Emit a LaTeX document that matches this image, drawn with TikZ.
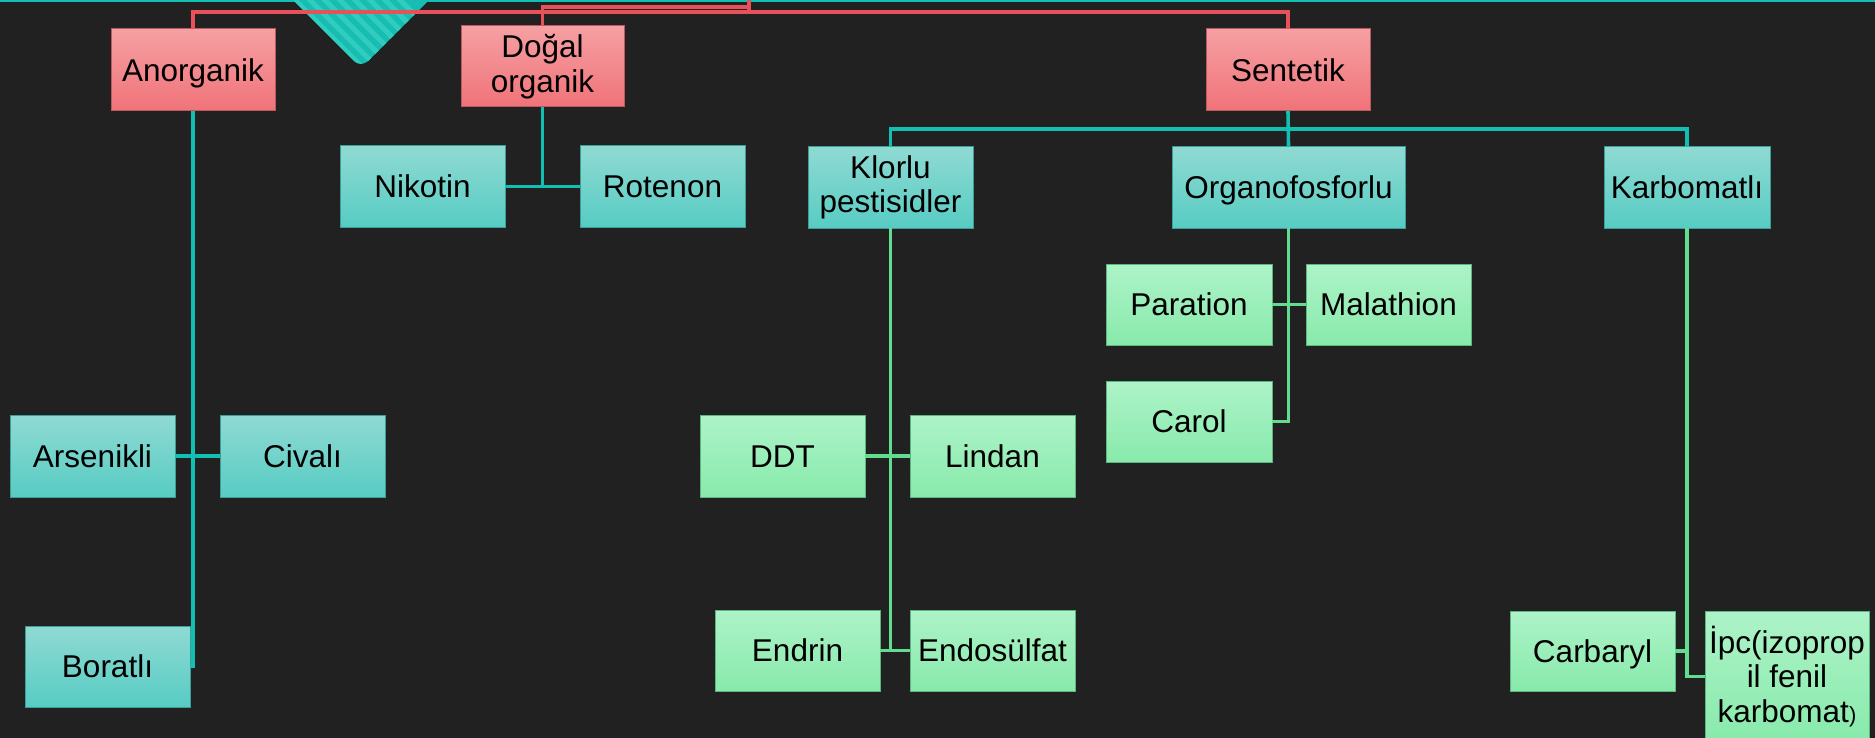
\documentclass[tikz,border=0pt]{standalone}
\usepackage{fontspec}
\setmainfont{Liberation Sans}
\definecolor{bg}{HTML}{212121}
\definecolor{redA}{HTML}{F5A0A3}
\definecolor{redB}{HTML}{F07379}
\definecolor{redE}{HTML}{B85A60}
\definecolor{redL}{HTML}{E8505A}
\definecolor{tealA}{HTML}{8FDAD3}
\definecolor{tealB}{HTML}{57CCC3}
\definecolor{tealE}{HTML}{3E9E97}
\definecolor{tealL}{HTML}{12BFB3}
\definecolor{grnA}{HTML}{ADF3C8}
\definecolor{grnB}{HTML}{88EAAB}
\definecolor{grnE}{HTML}{5DB57F}
\definecolor{grnL}{HTML}{62DC8E}
\definecolor{triA}{HTML}{17BDB0}
\definecolor{triB}{HTML}{2FCCBF}
\begin{document}
\begin{tikzpicture}[x=0.5pt,y=-0.5pt,
 box/.style={draw, line width=0.5pt, inner sep=0pt, outer sep=0pt, text=black,
   font=\fontsize{15.75pt}{17.25pt}\selectfont, align=center},
 wh/.style 2 args={minimum width=#1, minimum height=#2},
 one/.style={text height=11.3pt, text depth=0pt},
 rbox/.style={box, top color=redA, bottom color=redB, draw=redE},
 tbox/.style={box, top color=tealA, bottom color=tealB, draw=tealE},
 gbox/.style={box, top color=grnA, bottom color=grnB, draw=grnE},
 conn/.style={line width=1.8pt},
 rline/.style={conn, draw=redL},
 tline/.style={conn, draw=tealL},
 gline/.style={conn, draw=grnL}]
\useasboundingbox (0,0) rectangle (1875,738);
\fill[bg] (0,0) rectangle (1875,738);
% top band
\fill[tealL] (0,0) rectangle (1875,2.5);
% striped triangle
\begin{scope}
\path[clip, rounded corners=5pt] (283,-10) -- (361,68) -- (439,-10) -- cycle;
\fill[triA] (270,-10) rectangle (450,80);
\foreach \i in {0,...,16} { \draw[triB, line width=2.5pt] (150+\i*15,-10) -- ++(110,110); }
\end{scope}

% level 1
\node[rbox, one, wh={82pt}{41pt}] (anorg) at (193,70) {Anorganik};
\node[rbox, wh={81.5pt}{40.5pt}] (dogal) at (542.5,66.5) {Doğal\\organik};
\node[rbox, one, wh={82pt}{41pt}] (sent) at (1288,70) {Sentetik};

% level 2
\node[tbox, one, wh={82.5pt}{40.5pt}] (nik) at (422.5,186.5) {Nikotin};
\node[tbox, one, wh={82.5pt}{40.5pt}] (rot) at (662.5,186.5) {Rotenon};
\node[tbox, wh={82.5pt}{40.5pt}] (klor) at (890.5,187.5) {Klorlu\\pestisidler};
\node[tbox, one, wh={116.5pt}{40.5pt}] (org) at (1288.5,187.5) {Organofosforlu};
\node[tbox, one, wh={83pt}{40.5pt}] (karb) at (1687,187.5) {Karbomatlı};

\node[tbox, one, wh={82.5pt}{41pt}] (arsen) at (92.5,456) {Arsenikli};
\node[tbox, one, wh={82.5pt}{41pt}] (cival) at (302.5,456) {Civalı};
\node[tbox, one, wh={82.5pt}{40.5pt}] (borat) at (107.5,666.5) {Boratlı};

% level 3
\node[gbox, one, wh={83pt}{40.5pt}] (par) at (1189,304.5) {Paration};
\node[gbox, one, wh={82.5pt}{40.5pt}] (mal) at (1388.5,304.5) {Malathion};
\node[gbox, one, wh={83pt}{40.5pt}] (carol) at (1189,421.5) {Carol};
\node[gbox, one, wh={82.5pt}{41pt}] (ddt) at (782.5,456) {DDT};
\node[gbox, one, wh={82.5pt}{41pt}] (lindan) at (992.5,456) {Lindan};
\node[gbox, one, wh={82.5pt}{40.5pt}] (endrin) at (797.5,650.5) {Endrin};
\node[gbox, one, wh={82.5pt}{40.5pt}] (endos) at (992.5,650.5) {Endosülfat};
\node[gbox, one, wh={82.5pt}{40pt}] (carb) at (1592.5,651) {Carbaryl};
\node[gbox, wh={82pt}{65.5pt}] (ipc) at (1787,676.5) {İpc(izoprop\\il fenil\\karbomat{\fontsize{11pt}{11pt}\selectfont)}};

% red connectors
\coordinate (root) at (749,-4);
\coordinate (hubA) at (749,12);
\coordinate (hubB) at (749,7);
\draw[rline] (root) -- (hubA);
\draw[rline] (anorg.north) |- (hubA) -| (sent.north);
\draw[rline] (hubB) -| (dogal.north);

% teal connectors
\draw[tline] (anorg.south) |- (borat.east);
\draw[tline] (arsen.east) -- (cival.west);
\draw[tline] (dogal.south) -- (dogal.south |- nik.east);
\draw[tline] (nik.east) -- (rot.west);
\coordinate (sbar) at (1288,129);
\draw[tline] (sent.south) -- (org.north);
\draw[tline] (klor.north) |- (sbar) -| (karb.north);

% green connectors
\draw[gline] (klor.south) -- (klor.south |- endrin.east);
\draw[gline] (ddt.east) -- (lindan.west);
\draw[gline] (endrin.east) -- (endos.west);
\draw[gline] (org.south) |- (carol.east);
\draw[gline] (par.east) -- (mal.west);
\draw[gline] (karb.south) |- (ipc.west);
\draw[gline] (carb.east) -- (carb.east -| karb.south);
\end{tikzpicture}
\end{document}
